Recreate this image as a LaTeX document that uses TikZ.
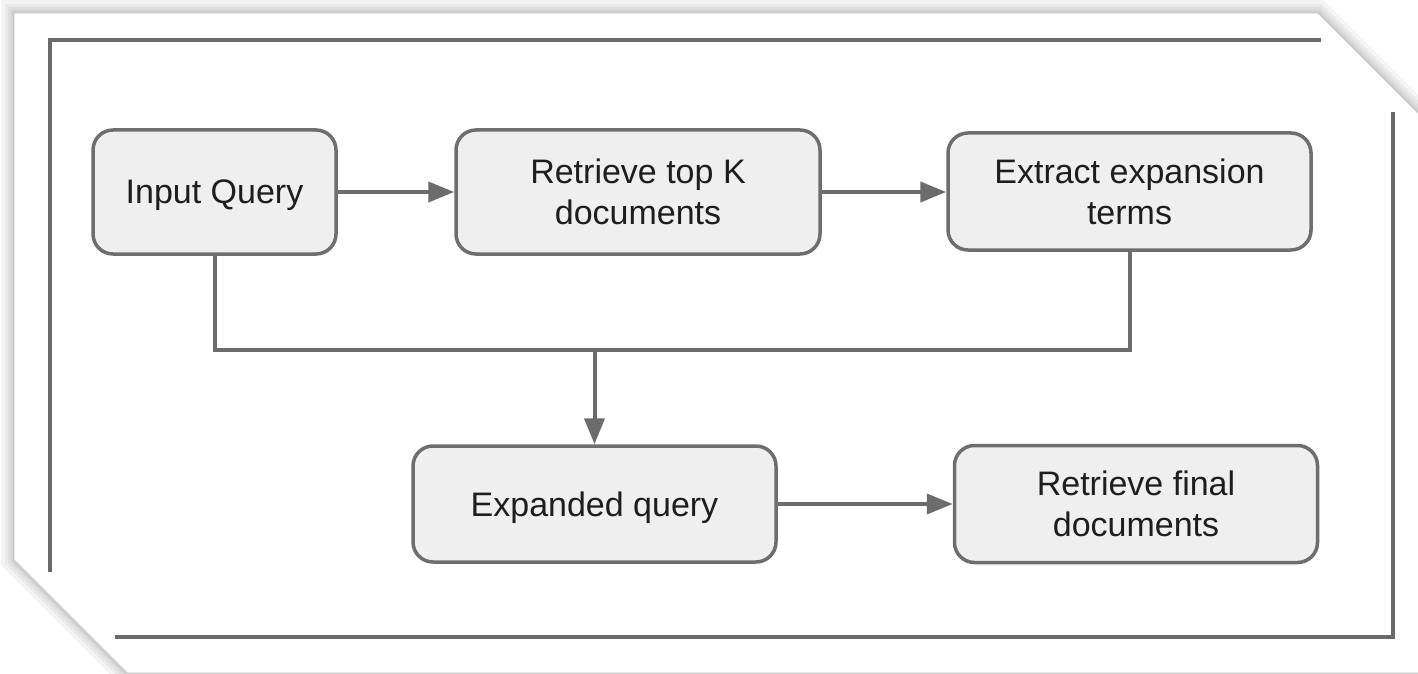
\documentclass[tikz,border=0pt]{standalone}
\usepackage{fontspec}
\setmainfont{Liberation Sans}
\usetikzlibrary{arrows.meta}
\definecolor{boxfill}{HTML}{EFEFEF}
\definecolor{boxline}{HTML}{6E6E6E}
\definecolor{wire}{HTML}{6C6C6C}
\definecolor{frameline}{HTML}{6A6A6A}
\definecolor{txt}{HTML}{1E1E1E}
\tikzset{
  stepbox/.style={draw=boxline, fill=boxfill, line width=3.5pt,
    rounded corners=20pt, inner sep=0pt, align=center, text=txt,
    text depth=0pt, font=\fontsize{34}{41}\selectfont},
  wireline/.style={draw=wire, line width=4pt},
  flow/.style={wireline, -{Triangle[length=26pt,width=20pt]}},
  frameedge/.style={draw=frameline, line width=4pt},
}
\begin{document}
\begin{tikzpicture}[x=1pt,y=-1pt]
\useasboundingbox (0,0) rectangle (1418,674);

% sheet with clipped corners and a soft shadow around it
\def\sheet{(14,13) -- (1318,13) -- (1500,195) -- (1500,673) -- (127,673) -- (14,560) -- cycle}
\foreach \w in {26,18,12,7,3} {
  \draw[black, opacity=0.045, line width=\w pt, line join=miter] \sheet;
}
\fill[white] \sheet;
\draw[gray!45, line width=0.8pt] \sheet;

% inner frame, open at the two clipped corners
\draw[frameedge] (1321,40) -- (50,40) -- (50,572);
\draw[frameedge] (115,637) -- (1393,637) -- (1393,112);

% process steps
\node[stepbox, minimum width=243pt, minimum height=124pt] (iq) at (214.5,192) {Input Query};
\node[stepbox, minimum width=364pt, minimum height=124pt] (rk) at (638,192) {Retrieve top K\\documents};
\node[stepbox, minimum width=363pt, minimum height=117pt] (ext) at (1129.5,191.5) {Extract expansion\\terms};
\node[stepbox, minimum width=363pt, minimum height=116pt] (eq) at (594.5,504) {Expanded query};
\node[stepbox, minimum width=363pt, minimum height=117pt] (rf) at (1136,504) {Retrieve final\\documents};

% merge point of the two feedback lines
\coordinate (j) at (eq.north |- 0,350);

% connectors
\draw[flow] (iq.east) -- (rk.west);
\draw[flow] (rk.east) -- (rk.east -| ext.west);
\draw[wireline] (iq.south) |- (j);
\draw[wireline] (ext.south) |- (j);
\draw[flow] (j) -- (eq.north);
\draw[flow] (eq.east) -- (eq.east -| rf.west);
\end{tikzpicture}
\end{document}
